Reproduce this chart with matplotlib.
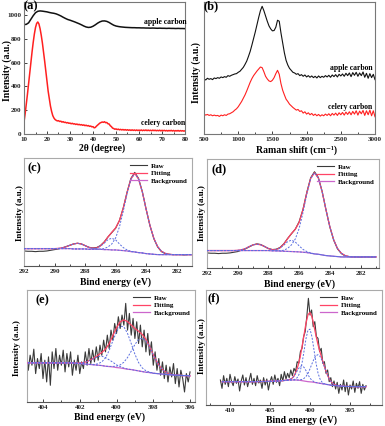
import numpy as np
import matplotlib.pyplot as plt
from matplotlib.ticker import MultipleLocator

plt.rcParams['font.family'] = ['Liberation Serif', 'DejaVu Serif']
plt.rcParams['font.weight'] = 'bold'

# ---------------- (a) XRD ----------------
xrd_apple = [920, 922, 935, 965, 995, 1020, 1032, 1035, 1033, 1030, 1027, 1022, 1018, 1015, 1010,
             1002, 993, 982, 972, 963, 957, 950, 943, 935, 927, 918, 908, 900, 896, 898, 906, 918,
             932, 943, 950, 951, 947, 938, 926, 915, 908, 904, 901, 899, 897, 896, 895, 894, 894,
             893, 893, 892, 892, 891, 891, 890, 891, 890, 889, 890, 889, 889, 888, 889, 888, 888,
             887, 888, 887, 887, 886]
xrd_celery = [100, 170, 250, 335, 425, 515, 605, 690, 770, 840, 895, 930, 942, 925, 885, 830, 765,
              690, 610, 525, 440, 360, 295, 235, 190, 155, 135, 122, 115, 110, 112, 105, 108, 100,
              104, 97, 99, 93, 96, 90, 92, 86, 90, 84, 86, 80, 84, 78, 81, 76, 79, 73, 77, 70, 74,
              68, 71, 64, 67, 60, 62, 52, 55, 66, 75, 84, 92, 96, 101, 98, 103, 95, 97, 86, 84, 70,
              62, 50, 46, 40, 43, 37, 41, 35, 39, 34, 38, 33, 37, 32, 36, 31, 35, 30, 35, 30, 34,
              29, 34, 29, 33, 29, 34, 28, 33, 29, 34, 28, 33, 28, 32, 27, 33, 28, 32, 27, 31, 27,
              32, 26, 31, 27, 31, 26, 30, 25, 30, 26, 31, 25, 30, 24, 29, 25, 30, 24, 29, 25, 28,
              24, 27]

# ---------------- (b) Raman ----------------
raman_apple = [166, 163, 168, 165, 167, 164, 169, 167, 170, 168, 172, 170, 173, 171, 176, 174, 177,
               179, 181, 182, 186, 189, 195, 201, 210, 220, 234, 249, 268, 288, 308, 330, 352, 372,
               385, 372, 356, 340, 326, 317, 311, 312, 322, 343, 340, 305, 275, 245, 222, 208, 198,
               192, 186, 184, 180, 182, 176, 179, 174, 178, 172, 176, 171, 175, 170, 174, 169, 175,
               170, 174, 171, 176, 172, 177, 171, 178, 173, 179, 172, 180, 175, 181, 174, 183, 176,
               184, 173, 185, 177, 186, 174, 184, 176, 187, 171, 183, 168, 182, 170, 180, 164]
raman_celery = [60, 57, 59, 56, 58, 55, 57, 55, 56, 53, 57, 55, 58, 56, 60, 61, 64, 67, 72, 76, 82,
                90, 98, 108, 118, 130, 143, 156, 167, 176, 183, 190, 196, 202, 200, 188, 174, 166,
                160, 158, 162, 170, 182, 192, 180, 152, 132, 118, 105, 98, 90, 85, 80, 76, 72, 74,
                68, 70, 63, 67, 60, 64, 58, 62, 56, 60, 55, 59, 54, 58, 55, 60, 56, 61, 55, 62, 57,
                63, 56, 64, 58, 65, 57, 66, 59, 67, 58, 68, 60, 70, 57, 69, 61, 71, 56, 70, 58, 72,
                55, 70, 52]

# ---------------- (c) C1s apple ----------------
c_raw = [36, 35, 35, 34, 35, 35, 36, 38, 40, 42, 45, 49, 53, 57, 59, 57, 52, 47, 45, 46, 52, 63,
         78, 91, 104, 127, 165, 212, 253, 271, 253, 213, 160, 111, 73, 48, 34, 28, 26, 25, 25,
         25, 24, 25, 25]
c_fit = [43, 43, 43, 43, 43, 43, 43, 43, 43, 43.7, 45.3, 48.5, 53, 57, 59, 57, 52, 46.5, 44.3,
         44.7, 51, 62, 78, 92, 105, 127, 164, 211, 251, 268, 251, 212, 160, 112, 74, 49, 35, 29,
         26, 25, 25, 25, 25, 25, 25]
c_bg = [43] * 13 + [42] * 4 + [41] * 4 + [40, 40, 39, 39, 38, 37, 36, 34, 33, 31, 30, 28, 27,
                                           26] + [25] * 10
c_peak1 = [0] * 9 + [0.7, 2.3, 5.5, 10, 15, 17, 15, 10, 5.5, 2.3, 0.7] + [0] * 25
c_peak2 = [0] * 18 + [1, 3, 9, 19, 30, 35, 30, 19, 9, 3, 1] + [0] * 16
c_peak3 = [0] * 20 + [1, 3, 8, 18, 36, 70, 118, 172, 216, 235, 220, 182, 132, 85, 48, 24, 10,
                      4, 1] + [0] * 6

# ---------------- (d) C1s celery ----------------
d_raw = [45, 44, 44, 43, 44, 44, 45, 47, 49, 53, 57, 63, 69, 72, 70, 64, 58, 55, 56, 61, 72, 88,
         102, 116, 138, 175, 226, 269, 287, 270, 228, 173, 122, 83, 57, 43, 36, 34, 33, 33, 32,
         33, 33, 32, 33]
d_fit = [52] * 8 + [52.8, 54.6, 58, 64, 69, 71, 69, 64, 58, 54.6, 54.8, 60, 71, 87.5, 103,
                    115.5, 136, 173.5, 224, 267, 284, 268, 227, 173, 123, 84, 58, 44, 37,
                    34] + [33] * 7
d_bg = [52] * 17 + [51, 51, 50.5, 50, 49.5, 49, 48.5, 48, 47, 46, 44, 42, 41, 39, 37, 36, 35,
                    34] + [33] * 10
d_peak1 = [0] * 8 + [0.8, 2.6, 6, 12, 17, 19, 17, 12, 6, 2.6, 0.8] + [0] * 26
d_peak2 = [0] * 17 + [1, 3, 8.5, 18, 29, 34, 29, 18, 8.5, 3, 1] + [0] * 17
d_peak3 = [0] * 19 + [1, 3, 9, 20, 38, 70, 118, 175, 222, 242, 227, 188, 136, 87, 49, 24, 11,
                      4, 1] + [0] * 7

# ---------------- (e) N1s apple ----------------
e_raw = [118, 150, 95, 140, 110, 158, 85, 130, 100, 145, 70, 125, 60, 135, 50, 150, 100, 160, 95,
         140, 110, 155, 90, 145, 105, 150, 80, 125, 95, 140, 85, 120, 100, 150, 110, 160, 115,
         155, 120, 165, 125, 170, 140, 185, 150, 200, 160, 215, 185, 235, 205, 255, 220, 260, 230,
         295, 215, 265, 200, 250, 190, 240, 175, 230, 165, 215, 150, 205, 140, 180, 110, 150, 95,
         130, 80, 120, 70, 110, 60, 105, 75, 115, 55, 100, 45, 95, 70, 30, 85, 60, 90]
e_fit = [117] * 14 + [116.6, 116.6, 118, 121, 126.4, 132.4, 140.4, 148, 158, 174.5, 198.5, 222,
                      240, 245.6, 240.6, 230, 220, 212, 202, 187.4, 166.4, 141.4, 120, 103, 92, 86,
                      82.5, 80.5, 80, 79, 79, 78]
e_bg = [117] * 14 + [116, 115, 114, 113, 112, 111, 110, 109, 107, 106, 105, 103, 102, 100, 98,
                     97, 95, 93, 91, 89, 88, 86, 85, 84, 83, 82, 81, 80, 80, 79, 79, 78]
e_peak1 = [0] * 18 + [0.4, 1.4, 4.4, 11, 25, 48, 78, 107, 125, 125, 107, 78, 48, 25, 11, 4.4,
                      1.4, 0.4] + [0] * 10
e_peak2 = [0] * 23 + [0.5, 1.5, 4, 9, 19, 35, 55, 77, 94, 100, 94, 77, 55, 35, 19, 9, 4, 1.5,
                      0.5] + [0] * 4
e_peak3 = [0] * 14 + [0.6, 1.6, 4, 8, 14, 20, 26, 28, 26, 20, 14, 8, 4, 1.6, 0.6] + [0] * 17

# ---------------- (f) N1s celery ----------------
f_raw = [75, 50, 88, 62, 80, 55, 92, 70, 58, 85, 65, 78, 42, 72, 90, 60, 82, 55, 75, 95, 62, 80,
         58, 88, 66, 75, 50, 82, 60, 78, 45, 70, 85, 62, 90, 68, 80, 58, 92, 72, 100, 78, 95, 82,
         105, 88, 110, 100, 130, 125, 160, 170, 205, 220, 265, 320, 270, 285, 235, 250, 205, 200,
         160, 170, 125, 130, 95, 105, 70, 82, 55, 72, 48, 68, 35, 62, 45, 75, 40, 68, 30, 60, 48,
         72, 38, 65, 50, 70, 35, 62, 45, 58]
f_energy = np.concatenate([[411, 409, 407, 405], np.arange(404, 394.9, -0.25), [394, 393]])
f_fit = [70, 70, 70, 71, 72, 72.5, 73, 73.5, 74.2, 75.1, 77, 80.3, 87, 99.8, 117.6, 141.6, 173.7,
         209.8, 245.6, 271, 277.5, 264, 237, 207.6, 181.2, 159, 138.5, 119.4, 101.4, 86, 74.6,
         66.8, 62.2, 59.6, 58.1, 57, 56.5, 56, 56, 55.5, 55.5, 55, 55]
f_bg = [70, 70, 70, 71, 72, 72.5, 73, 73.5, 74, 74.5, 75, 75, 75, 75, 74.5, 74, 73, 72, 71, 70,
        69.5, 69, 68, 67, 66, 65, 64, 63, 62, 61, 60, 59, 58.5, 58, 57.5, 57, 56.5, 56, 56, 55.5,
        55.5, 55, 55]
f_peak1 = [0] * 11 + [0.3, 1, 3.6, 10.5, 25, 52, 89, 128, 155, 158, 135, 97, 59, 30, 13, 4.5,
                      1.4, 0.4] + [0] * 14
f_peak2 = [0] * 14 + [0.6, 1.6, 3.7, 7.8, 14.6, 25, 39, 55, 70, 81, 85, 81, 70, 55, 39, 25,
                      14.6, 7.8, 3.7, 1.6, 0.6] + [0] * 8
f_peak3 = [0] * 8 + [0.2, 0.6, 2, 5, 11, 21, 32, 41, 45, 41, 32, 21, 11, 5, 2, 0.6,
                     0.2] + [0] * 18

RAW, FIT, BKG, CMP = '#3a3a3a', '#ff4466', '#cc66cc', '#5a6ee0'
W, H = 385, 426
fig = plt.figure(figsize=(W / 100, H / 100), dpi=100)


def box(l, t, r, b):
    return fig.add_axes([l / W, 1 - b / H, (r - l) / W, (b - t) / H])


def ftext(x, y, s, **kw):
    fig.text(x / W, 1 - y / H, s, ha='center', va='center', **kw)


def style(ax, frame):
    for sp in ax.spines.values():
        sp.set_color(frame)
        sp.set_linewidth(0.8)
    ax.tick_params(direction='in', labelsize=5, pad=2, length=2.5, width=0.6, colors='#222222')
    ax.tick_params(which='minor', direction='in', length=1.5, width=0.5)


def xps(ax, x, raw, fit, bg, peaks, x_raw=None):
    xr = x if x_raw is None else x_raw
    l_raw, = ax.plot(xr, raw, color=RAW, lw=0.8, zorder=2)
    l_fit, = ax.plot(x, fit, color=FIT, lw=0.9, zorder=3)
    l_bg, = ax.plot(x, bg, color=BKG, lw=0.9, zorder=3)
    for p in peaks:
        ax.plot(x, np.array(bg) + np.array(p), color=CMP, lw=0.7, ls=(0, (2, 1.5)), zorder=4)
    ax.legend([l_raw, l_fit, l_bg], ['Raw', 'Fitting', 'Background'], loc='upper right',
              frameon=False, fontsize=5, handlelength=2.4, handletextpad=0.5,
              labelspacing=0.25, borderaxespad=0.3)
    ax.set_yticks([])


# (a)
ax = box(24, 2, 185, 134)
ax.plot(10 + np.arange(len(xrd_apple)), xrd_apple, color='#111111', lw=1.1)
ax.plot(10 + 0.5 * np.arange(len(xrd_celery)), xrd_celery, color='#ff2020', lw=1.1)
ax.set_xlim(10, 80)
ax.set_ylim(0, 1110)
ax.set_xticks(range(10, 81, 10))
ax.set_yticks(range(0, 1001, 200))
ax.xaxis.set_minor_locator(MultipleLocator(5))
style(ax, '#777777')
ax.text(0.875, 0.85, 'apple carbon', transform=ax.transAxes, ha='center', va='center',
        fontsize=5.5)
ax.text(0.865, 0.085, 'celery carbon', transform=ax.transAxes, ha='center', va='center',
        fontsize=5.5)
ax.text(0.0, 1.01, '(a)', transform=ax.transAxes, ha='left', va='top', fontsize=9)
ftext(7, 71, 'Intensity (a.u.)', rotation=90, fontsize=7)
ftext(102, 148, '2θ (degree)', fontsize=7)

# (b)
ax = box(204, 2, 375, 134)
raman_x = np.linspace(500, 3000, len(raman_apple))
ax.plot(raman_x, raman_apple, color='#111111', lw=0.8)
ax.plot(np.linspace(500, 3000, len(raman_celery)), raman_celery, color='#ff2020', lw=0.8)
ax.set_xlim(500, 3000)
ax.set_ylim(0, 398)
ax.set_xticks(range(500, 3001, 500))
ax.xaxis.set_minor_locator(MultipleLocator(250))
ax.set_yticks([])
style(ax, '#777777')
ax.text(0.86, 0.5, 'apple carbon', transform=ax.transAxes, ha='center', va='center',
        fontsize=5.5)
ax.text(0.855, 0.205, 'celery carbon', transform=ax.transAxes, ha='center', va='center',
        fontsize=5.5)
ax.text(0.0, 1.01, '(b)', transform=ax.transAxes, ha='left', va='top', fontsize=9)
ftext(196, 73, 'Intensity (a.u.)', rotation=90, fontsize=7)
ftext(296, 150, 'Raman shift (cm⁻¹)', fontsize=7)

c1s_x = 292 - 0.25 * np.arange(len(c_fit))

# (c)
ax = box(24, 158, 192, 266)
xps(ax, c1s_x, c_raw, c_fit, c_bg, [c_peak1, c_peak2, c_peak3])
ax.set_xlim(292, 281)
ax.set_ylim(-9, 314)
ax.set_xticks(range(292, 281, -2))
ax.xaxis.set_minor_locator(MultipleLocator(1))
style(ax, '#aaaaaa')
ax.spines['bottom'].set_color('#555555')
ax.text(0.02, 0.96, '(c)', transform=ax.transAxes, ha='left', va='top', fontsize=9)
ftext(20, 213, 'Intensity (a.u.)', rotation=90, fontsize=6.5)
ftext(115, 282, 'Bind energy (eV)', fontsize=7)

# (d)
ax = box(207, 159, 379, 268)
xps(ax, c1s_x, d_raw, d_fit, d_bg, [d_peak1, d_peak2, d_peak3])
ax.set_xlim(292, 280.8)
ax.set_ylim(0, 325)
ax.set_xticks(range(292, 281, -2))
ax.xaxis.set_minor_locator(MultipleLocator(1))
style(ax, '#aaaaaa')
ax.spines['bottom'].set_color('#555555')
ax.text(0.025, 0.96, '(d)', transform=ax.transAxes, ha='left', va='top', fontsize=9)
ftext(202, 213, 'Intensity (a.u.)', rotation=90, fontsize=6.5)
ftext(300, 284, 'Bind energy (eV)', fontsize=7)

# (e)
ax = box(27, 290, 195, 402)
e_x = 405 - 0.2 * np.arange(len(e_fit))
xps(ax, e_x, e_raw, e_fit, e_bg, [e_peak1, e_peak2, e_peak3],
    x_raw=405 - 0.1 * np.arange(len(e_raw)))
ax.set_xlim(404.87, 395.73)
ax.set_ylim(0, 335)
ax.set_xticks(range(404, 395, -2))
ax.xaxis.set_minor_locator(MultipleLocator(1))
style(ax, '#aaaaaa')
ax.spines['bottom'].set_color('#555555')
ax.text(0.05, 0.96, '(e)', transform=ax.transAxes, ha='left', va='top', fontsize=9)
ftext(17, 348, 'Intensity (a.u.)', rotation=90, fontsize=6.5)
ftext(110, 417, 'Bind energy (eV)', fontsize=7)

# (f)
ax = box(206, 290, 382, 405)
xps(ax, f_energy, f_raw, f_fit, f_bg, [f_peak1, f_peak2, f_peak3],
    x_raw=411.2 - 0.2 * np.arange(len(f_raw)))
ax.set_xlim(413, 391)
ax.set_ylim(0, 345)
ax.set_xticks(range(410, 394, -5))
ax.xaxis.set_minor_locator(MultipleLocator(2.5))
style(ax, '#aaaaaa')
ax.spines['bottom'].set_color('#555555')
ax.text(0.01, 0.98, '(f)', transform=ax.transAxes, ha='left', va='top', fontsize=9)
ftext(202, 346, 'Intensity (a.u.)', rotation=90, fontsize=6.5)
ftext(302, 420, 'Bind energy (eV)', fontsize=7)

fig.savefig('out.png', dpi=100)
